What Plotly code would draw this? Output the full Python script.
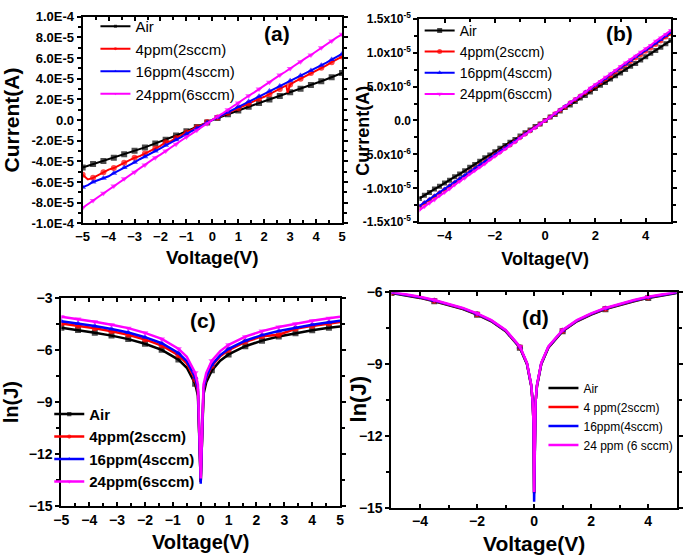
import plotly.graph_objects as go

# ---------------- data ----------------
# Sweep voltages (V)
V_ab = [-5.0,-4.8,-4.6,-4.4,-4.2,-4.0,-3.8,-3.6,-3.4,-3.2,-3.0,-2.8,-2.6,-2.4,-2.2,-2.0,-1.8,-1.6,-1.4,-1.2,
        -1.0,-0.8,-0.6,-0.4,-0.2,0.0,0.2,0.4,0.6,0.8,1.0,1.2,1.4,1.6,1.8,2.0,2.2,2.4,2.6,2.8,
        3.0,3.2,3.4,3.6,3.8,4.0,4.2,4.4,4.6,4.8,5.0]
V_a_red = [-5.0,-4.8,-4.6,-4.4,-4.2,-4.0,-3.8,-3.6,-3.4,-3.2,-3.0,-2.8,-2.6,-2.4,-2.2,-2.0,-1.8,-1.6,-1.4,-1.2,
           -1.0,-0.8,-0.6,-0.4,-0.2,0.0,0.2,0.4,0.6,0.8,1.0,1.2,1.4,1.6,1.8,2.0,2.2,2.4,2.6,2.8,2.85,2.9,
           3.0,3.2,3.4,3.6,3.8,4.0,4.2,4.4,4.6,4.8,5.0]

# Panel (a) current in microampere
air_a = [-46.0,-44.4,-42.6,-41.2,-39.6,-38.2,-36.5,-35.0,-33.2,-31.6,-29.8,-28.2,-26.5,-24.6,-22.8,
         -20.8,-19.0,-17.0,-15.0,-13.0,-11.0,-8.9,-6.8,-4.6,-2.3,0.0,1.9,3.8,5.6,7.4,9.2,
         11.0,12.8,14.6,16.4,18.2,19.9,21.6,23.3,25.0,26.8,28.5,30.3,32.0,33.8,35.5,
         37.5,39.5,41.5,43.5,45.5]
red_a = [-53.0,-57.5,-56.0,-53.5,-50.5,-48.0,-46.5,-44.0,-41.5,-39.0,-36.5,-35.0,-32.5,-30.0,-27.5,
         -25.0,-21.5,-20.5,-17.5,-14.5,-12.0,-9.5,-7.0,-4.5,-2.0,0.5,2.5,4.5,7.0,9.5,11.5,
         13.5,16.0,18.0,20.5,22.5,25.0,27.5,30.0,32.5,33.5,26.5,
         34.5,37.5,40.0,42.5,45.5,48.0,50.5,53.0,56.0,58.5,61.5]
blue_a = [-65.0,-63.0,-60.0,-58.0,-56.5,-54.5,-51.5,-49.0,-46.0,-43.5,-41.0,-38.0,-35.5,-32.5,-30.0,
          -27.5,-24.5,-22.0,-19.0,-16.5,-13.5,-11.0,-8.0,-5.5,-2.5,0.0,2.5,5.0,7.5,10.5,13.0,
          15.5,18.0,20.5,23.0,25.5,28.0,30.5,33.0,35.5,38.0,40.5,43.0,45.5,48.0,50.5,
          53.0,55.5,58.5,61.0,64.0]
mag_a = [-85.0,-81.5,-78.0,-74.5,-71.0,-67.5,-64.0,-60.5,-57.0,-53.5,-50.5,-47.0,-43.5,-40.0,-36.5,
         -33.5,-30.0,-26.5,-23.5,-20.0,-16.5,-13.5,-10.0,-6.5,-3.5,0.0,3.5,6.5,10.0,13.5,16.5,
         20.0,23.5,26.5,30.0,33.5,36.5,40.0,43.5,46.5,50.0,53.0,56.5,60.0,63.0,66.5,
         70.0,73.0,76.5,80.0,83.0]

# Panel (b) current in microampere
air_b = [-11.5,-11.0,-10.6,-10.1,-9.7,-9.2,-8.8,-8.3,-7.9,-7.4,-6.9,-6.5,-6.0,-5.5,-5.1,
         -4.6,-4.1,-3.7,-3.2,-2.8,-2.3,-1.8,-1.4,-0.9,-0.5,0.0,0.5,0.9,1.4,1.9,2.3,
         2.8,3.3,3.7,4.2,4.7,5.2,5.6,6.1,6.6,7.0,7.5,8.0,8.4,8.9,9.4,9.9,10.3,10.8,11.3,11.8]
red_b = [-12.7,-12.2,-11.7,-11.2,-10.7,-10.2,-9.7,-9.2,-8.7,-8.2,-7.6,-7.1,-6.6,-6.1,-5.6,
         -5.1,-4.6,-4.1,-3.6,-3.1,-2.5,-2.0,-1.5,-1.0,-0.5,0.0,0.5,1.0,1.5,2.0,2.6,
         3.1,3.6,4.1,4.6,5.1,5.6,6.1,6.6,7.2,7.7,8.2,8.7,9.2,9.7,10.2,10.7,11.2,11.7,12.3,12.8]
blue_b = [-12.6,-12.1,-11.6,-11.1,-10.6,-10.1,-9.6,-9.1,-8.6,-8.1,-7.6,-7.1,-6.6,-6.1,-5.6,
          -5.1,-4.6,-4.1,-3.6,-3.1,-2.5,-2.0,-1.5,-1.0,-0.5,0.0,0.5,1.0,1.6,2.1,2.6,
          3.1,3.6,4.2,4.7,5.2,5.7,6.2,6.8,7.3,7.8,8.3,8.8,9.4,9.9,10.4,10.9,11.4,11.9,12.5,13.0]
mag_b = [-13.2,-12.7,-12.2,-11.7,-11.1,-10.6,-10.1,-9.5,-9.0,-8.5,-7.9,-7.4,-6.9,-6.4,-5.8,
         -5.3,-4.8,-4.2,-3.7,-3.2,-2.6,-2.1,-1.6,-1.1,-0.5,0.0,0.5,1.1,1.6,2.1,2.7,
         3.2,3.7,4.2,4.8,5.3,5.8,6.4,6.9,7.4,8.0,8.5,9.0,9.5,10.1,10.6,11.1,11.7,12.2,12.7,13.3]

# Panel (c) ln(J)
V_c = [-5.0,-4.4,-3.8,-3.2,-2.6,-2.0,-1.4,-0.8,-0.5,-0.2,-0.1,0.0,0.1,0.2,0.4,0.7,1.0,1.6,2.2,2.8,3.4,4.0,4.6,5.0]
air_c = [-4.72,-4.85,-5.00,-5.17,-5.37,-5.64,-5.99,-6.55,-7.02,-7.94,-8.63,-13.6,
         -8.55,-7.86,-7.17,-6.61,-6.25,-5.78,-5.46,-5.22,-5.03,-4.86,-4.72,-4.64]
red_c = [-4.47,-4.60,-4.75,-4.92,-5.12,-5.39,-5.74,-6.30,-6.77,-7.69,-8.38,-13.6,
         -8.30,-7.61,-6.92,-6.36,-6.00,-5.53,-5.21,-5.12,-4.78,-4.61,-4.47,-4.39]
blue_c = [-4.34,-4.47,-4.62,-4.79,-4.99,-5.26,-5.61,-6.17,-6.64,-7.56,-8.25,-13.7,
          -8.23,-7.54,-6.85,-6.29,-5.93,-5.46,-5.14,-4.90,-4.71,-4.54,-4.40,-4.32]
mag_c = [-4.09,-4.22,-4.37,-4.54,-4.74,-5.01,-5.36,-5.92,-6.39,-7.31,-8.00,-13.4,
         -8.00,-7.31,-6.62,-6.06,-5.70,-5.23,-4.91,-4.67,-4.48,-4.31,-4.17,-4.09]

# Panel (d) ln(J)
V_d = [-5.0,-4.5,-4.0,-3.5,-3.0,-2.5,-2.0,-1.5,-1.0,-0.5,-0.25,-0.1,-0.05,-0.02,0.0,
       0.02,0.05,0.1,0.25,0.5,1.0,1.5,2.0,2.5,3.0,3.5,4.0,4.5,5.0]
air_d = [-6.03,-6.12,-6.23,-6.37,-6.52,-6.70,-6.93,-7.21,-7.62,-8.31,-9.00,-9.92,-10.6,-11.5,-14.4,
         -11.5,-10.6,-9.92,-9.00,-8.31,-7.62,-7.21,-6.93,-6.70,-6.52,-6.37,-6.23,-6.12,-6.03]
red_d = [-6.01,-6.10,-6.21,-6.35,-6.50,-6.68,-6.91,-7.19,-7.60,-8.29,-8.98,-9.90,-10.6,-11.5,-14.4,
         -11.5,-10.6,-9.90,-8.98,-8.29,-7.60,-7.19,-6.91,-6.68,-6.50,-6.35,-6.21,-6.10,-6.01]
blue_d = [-6.00,-6.09,-6.20,-6.34,-6.49,-6.67,-6.90,-7.18,-7.59,-8.28,-8.97,-9.89,-10.6,-11.5,-14.75,
          -11.5,-10.6,-9.89,-8.97,-8.28,-7.59,-7.18,-6.90,-6.67,-6.49,-6.34,-6.20,-6.09,-6.00]
mag_d = [-5.98,-6.07,-6.18,-6.32,-6.47,-6.65,-6.88,-7.16,-7.57,-8.26,-8.95,-9.87,-10.6,-11.5,-14.35,
         -11.5,-10.6,-9.87,-8.95,-8.26,-7.57,-7.16,-6.88,-6.65,-6.47,-6.32,-6.18,-6.07,-5.98]

names_abc = ["Air", "4ppm(2sccm)", "16ppm(4sccm)", "24ppm(6sccm)"]
names_d = ["Air", "4 ppm(2sccm)", "16ppm(4sccm)", "24 ppm (6 sccm)"]

# ---------------- style ----------------
COLORS = ["#000000", "#FF0000", "#0000FF", "#FF00FF"]
SYMBOLS = ["square", "circle", "triangle-up", "triangle-down"]
FONT = "Arial, Liberation Sans, sans-serif"


def msizes(v, start, step, size):
    out = []
    for x in v:
        k = (x - start) / step
        out.append(size if abs(k - round(k)) < 1e-6 else 0)
    return out


fig = go.Figure()


def add_series(xs_list, ys_list, names, xa, ya, legend, mstart, mstep, msize, scale=1.0, lw=2):
    for i, (xs, ys) in enumerate(zip(xs_list, ys_list)):
        fig.add_trace(go.Scatter(
            x=xs, y=[y * scale for y in ys], name=names[i], mode="lines+markers",
            line=dict(color=COLORS[i], width=lw),
            marker=dict(symbol=SYMBOLS[i], color=COLORS[i], size=msizes(xs, mstart, mstep, msize),
                        line=dict(width=0)),
            xaxis=xa, yaxis=ya, legend=legend))


add_series([V_ab, V_a_red, V_ab, V_ab], [air_a, red_a, blue_a, mag_a], names_abc,
           "x", "y", "legend", -5.0, 0.4, 6, scale=1e-6)
add_series([V_ab, V_ab, V_ab, V_ab], [air_b, red_b, blue_b, mag_b], names_abc,
           "x2", "y2", "legend2", -5.0, 0.2, 5, scale=1e-6)
add_series([V_c] * 4, [air_c, red_c, blue_c, mag_c], names_abc,
           "x3", "y3", "legend3", -5.0, 0.6, 6, lw=2.5)
add_series([V_d] * 4, [air_d, red_d, blue_d, mag_d], names_d,
           "x4", "y4", "legend4", -5.0, 1.5, 6, lw=2.5)

W, H = 685, 558


def dx(a, b):
    return [a / W, b / W]


def dy(top, bottom):
    return [1 - bottom / H, 1 - top / H]


axis_common = dict(showline=True, linewidth=2, linecolor="black", mirror="allticks",
                   showgrid=False, zeroline=False, ticklen=4, tickwidth=2, tickcolor="black",
                   color="black")

a_y_vals = [-1e-4, -8e-5, -6e-5, -4e-5, -2e-5, 0, 2e-5, 4e-5, 6e-5, 8e-5, 1e-4]
a_y_text = ["-1.0E-4", "-8.0E-5", "-6.0E-5", "-4.0E-5", "-2.0E-5", "0.0",
            "2.0E-5", "4.0E-5", "6.0E-5", "8.0E-5", "1.0E-4"]
b_y_vals = [-1.5e-5, -1.0e-5, -5e-6, 0, 5e-6, 1.0e-5, 1.5e-5]
b_y_text = ["-1.5x10<sup>-5</sup>", "-1.0x10<sup>-5</sup>", "-5.0x10<sup>-6</sup>", "0.0",
            "5.0x10<sup>-6</sup>", "1.0x10<sup>-5</sup>", "1.5x10<sup>-5</sup>"]

tf = lambda s: dict(family=FONT, size=s, color="black", weight="bold")


def label(text, px, py, size, angle=0):
    return dict(text=text, x=px / W, y=1 - py / H, xref="paper", yref="paper", showarrow=False,
                xanchor="center", yanchor="middle", textangle=angle, font=tf(size))


fig.update_layout(
    width=W, height=H, margin=dict(l=0, r=0, t=0, b=0),
    paper_bgcolor="white", plot_bgcolor="white",
    font=dict(family=FONT, color="black"),
    xaxis=dict(axis_common, domain=dx(76, 340), anchor="y", range=[-5, 5], dtick=1, ticks="inside",
               minor=dict(dtick=0.5, ticks="inside", ticklen=3, tickwidth=2, tickcolor="black"),
               tickfont=tf(13), title=dict(text="Voltage(V)", font=tf(19), standoff=8)),
    yaxis=dict(axis_common, domain=dy(8, 221), anchor="x", range=[-1e-4, 1e-4], ticks="outside",
               tickvals=a_y_vals, ticktext=a_y_text,
               minor=dict(tickvals=[-9e-5,-7e-5,-5e-5,-3e-5,-1e-5,1e-5,3e-5,5e-5,7e-5,9e-5],
                          ticks="outside", ticklen=3, tickwidth=2, tickcolor="black"),
               tickfont=tf(13), title=dict(text="Current(A)", font=tf(21), standoff=6)),
    xaxis2=dict(axis_common, domain=dx(418.7, 674.7), anchor="y2", range=[-5, 5], dtick=2, ticks="inside",
                minor=dict(dtick=1, ticks="inside", ticklen=3, tickwidth=2, tickcolor="black"),
                tickfont=tf(13), title=dict(text="Voltage(V)", font=tf(18), standoff=11)),
    yaxis2=dict(axis_common, domain=dy(10, 220), anchor="x2", range=[-1.5e-5, 1.5e-5], ticks="outside",
                tickvals=b_y_vals, ticktext=b_y_text,
                minor=dict(tickvals=[-1.25e-5,-7.5e-6,-2.5e-6,2.5e-6,7.5e-6,1.25e-5],
                           ticks="outside", ticklen=3, tickwidth=2, tickcolor="black"),
                tickfont=tf(12)),
    xaxis3=dict(axis_common, domain=dx(54.3, 338), anchor="y3", range=[-5, 5], dtick=1, ticks="inside",
                minor=dict(dtick=0.5, ticks="inside", ticklen=3, tickwidth=2, tickcolor="black"),
                tickfont=tf(14), title=dict(text="Voltage(V)", font=tf(20), standoff=8)),
    yaxis3=dict(axis_common, domain=dy(298, 513), anchor="x3", range=[-15, -3], dtick=3, ticks="outside",
                minor=dict(dtick=1.5, ticks="outside", ticklen=3, tickwidth=2, tickcolor="black"),
                tickfont=tf(14), title=dict(text="ln(J)", font=tf(20), standoff=8)),
    xaxis4=dict(axis_common, domain=dx(390.3, 680.7), anchor="y4", range=[-5, 5], dtick=2, ticks="inside",
                minor=dict(dtick=1, ticks="inside", ticklen=3, tickwidth=2, tickcolor="black"),
                tickfont=tf(14), title=dict(text="Voltage(V)", font=tf(21), standoff=8)),
    yaxis4=dict(axis_common, domain=dy(292.3, 514.3), anchor="x4", range=[-15, -6], dtick=3, ticks="outside",
                minor=dict(dtick=1.5, ticks="outside", ticklen=3, tickwidth=2, tickcolor="black"),
                tickfont=tf(14)),
    legend=dict(x=89 / W, y=1 - 1 / H, xanchor="left", yanchor="top", bgcolor="rgba(0,0,0,0)",
                font=dict(family=FONT, size=15, color="black"), tracegroupgap=0, itemwidth=30),
    legend2=dict(x=419 / W, y=1 - 6 / H, xanchor="left", yanchor="top", bgcolor="rgba(0,0,0,0)",
                 font=dict(family=FONT, size=14, color="black"), tracegroupgap=0, itemwidth=30),
    legend3=dict(x=42 / W, y=1 - 401 / H, xanchor="left", yanchor="top", bgcolor="rgba(0,0,0,0)",
                 font=dict(family=FONT, size=15, color="black", weight="bold"), tracegroupgap=0, itemwidth=30),
    legend4=dict(x=545 / W, y=1 - 376 / H, xanchor="left", yanchor="top", bgcolor="rgba(0,0,0,0)",
                 font=dict(family=FONT, size=12, color="black"), tracegroupgap=0, itemwidth=30),
    annotations=[
        label("(a)", 274, 25, 21),
        label("(b)", 622, 25, 21),
        label("(c)", 198, 321, 21),
        label("(d)", 537, 318, 21),
        label("Current(A)", 361, 126, 18, -90),
        label("ln(J)", 357, 403, 22, -90),
    ],
)

fig.write_html("out.html", config={"displayModeBar": False},
               post_script="document.body.style.margin='0';document.body.style.padding='0';"
                           "document.body.style.overflow='hidden';")
